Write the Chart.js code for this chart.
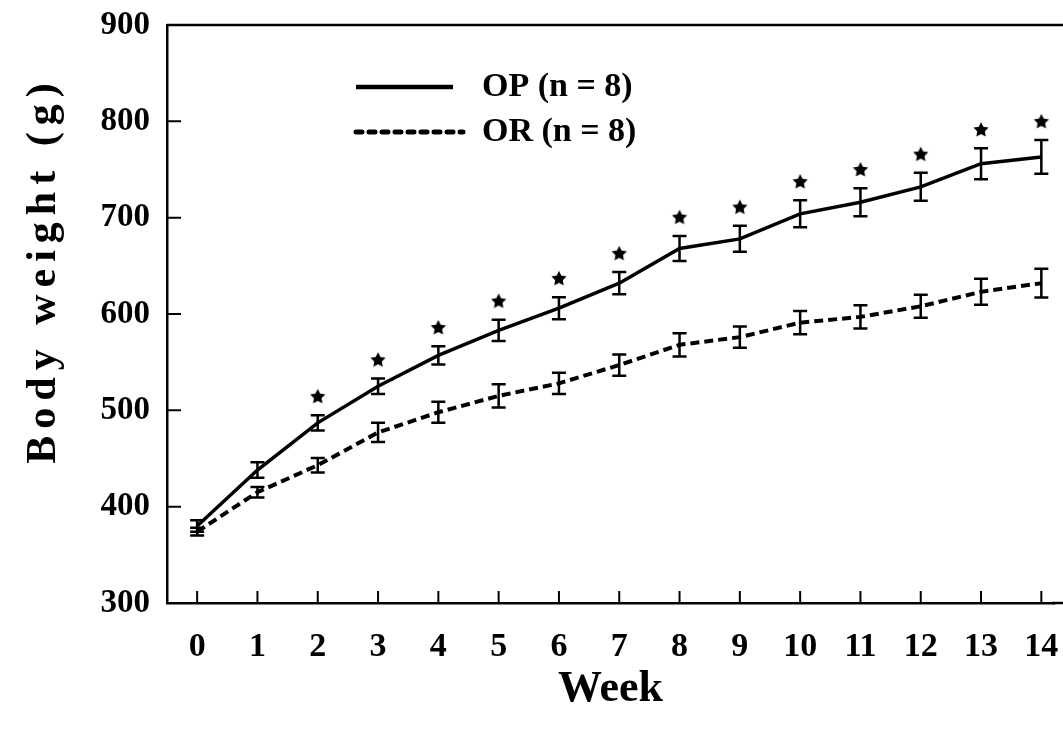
<!DOCTYPE html>
<html lang="en">
<head>
<meta charset="UTF-8">
<title>Body weight by week</title>
<script src="https://cdn.jsdelivr.net/npm/chart.js"></script>
<style>
  html, body { margin: 0; background: #fff; overflow: hidden; }
  #wrap { width: 1063px; height: 732px; }
  canvas { display: block; }
</style>
</head>
<body>
<div id="wrap"><canvas id="bw" width="1063" height="732"></canvas></div>
<script>
// weekly means and error (SE)
const weeks = [0, 1, 2, 3, 4, 5, 6, 7, 8, 9, 10, 11, 12, 13, 14];
const opMean = [380, 438, 487, 525, 557, 583, 606, 632, 668, 678, 704, 716, 732, 756, 763];
const opErr  = [6, 8, 8, 8, 9.5, 11, 11.5, 11.5, 13, 13.5, 14, 14.5, 14.5, 16, 17.5];
const orMean = [374, 415, 443, 477, 498, 515, 528, 547, 568, 576, 591, 597, 608, 623, 632];
const orErr  = [4, 5.5, 7.5, 10, 11, 12, 11, 11, 12, 11, 12, 12, 12, 13.5, 15];
const starWeeks = [2, 3, 4, 5, 6, 7, 8, 9, 10, 11, 12, 13, 14];
const yTicks = [300, 400, 500, 600, 700, 800, 900];

const serif = '"Liberation Serif", "Times New Roman", serif';

// filled five point star used for the significance marks
function makeStar(r) {
    let c = document.createElement('canvas');
    c.width = c.height = r * 2 + 2;
    let g = c.getContext('2d');
    g.beginPath();
    for (let i = 0; i < 10; i++) {
        let rad = i % 2 ? r * 0.5 : r;
        let a = -Math.PI / 2 + i * Math.PI / 5;
        g.lineTo(r + 1 + rad * Math.cos(a), r + 1 + rad * Math.sin(a));
    }
    g.closePath();
    g.fillStyle = '#000';
    g.fill();
    return c;
}

const starPts = starWeeks.map(w => {
    let i = weeks.indexOf(w);
    return { x: w, y: opMean[i] + opErr[i] + 19 };
});

const extras = {
    id: 'extras',
    afterDatasetsDraw(chart) {
        let ctx = chart.ctx, xs = chart.scales.x, ys = chart.scales.y;
        ctx.save();
        ctx.strokeStyle = '#000';
        ctx.lineWidth = 2.5;
        [[opMean, opErr], [orMean, orErr]].forEach(([m, e]) => {
            weeks.forEach((w, i) => {
                let px = xs.getPixelForValue(w);
                let top = ys.getPixelForValue(m[i] + e[i]);
                let bot = ys.getPixelForValue(m[i] - e[i]);
                ctx.beginPath();
                ctx.moveTo(px, top); ctx.lineTo(px, bot);
                ctx.moveTo(px - 7, top); ctx.lineTo(px + 7, top);
                ctx.moveTo(px - 7, bot); ctx.lineTo(px + 7, bot);
                ctx.stroke();
            });
        });
        ctx.restore();
    },
    afterDraw(chart) {
        let ctx = chart.ctx, xs = chart.scales.x, ys = chart.scales.y;
        let area = chart.chartArea;
        ctx.save();
        ctx.strokeStyle = '#000';
        ctx.lineWidth = 2.5;
        // frame: top line, bottom axis carried on to the page edge
        ctx.beginPath();
        ctx.moveTo(area.left, area.top);
        ctx.lineTo(chart.width, area.top);
        ctx.moveTo(area.right - 2, area.bottom);
        ctx.lineTo(chart.width, area.bottom);
        ctx.stroke();
        // inward tick marks
        ctx.lineWidth = 2;
        ctx.beginPath();
        yTicks.forEach(v => {
            let py = ys.getPixelForValue(v);
            ctx.moveTo(area.left, py); ctx.lineTo(area.left + 14, py);
        });
        weeks.forEach(w => {
            let px = xs.getPixelForValue(w);
            ctx.moveTo(px, area.bottom); ctx.lineTo(px, area.bottom - 12);
        });
        ctx.stroke();

        // legend
        let sets = chart.data.datasets;
        let rows = [[sets[0], 87, 453], [sets[1], 132, 463]];
        ctx.font = 'bold 34px ' + serif;
        ctx.fillStyle = '#000';
        ctx.textBaseline = 'middle';
        rows.forEach(([ds, y, end]) => {
            ctx.beginPath();
            ctx.lineWidth = ds.borderWidth + 1;
            ctx.lineCap = ds.borderDash ? 'round' : 'butt';
            ctx.setLineDash(ds.borderDash ? [6, 7] : []);
            ctx.moveTo(356, y); ctx.lineTo(end, y);
            ctx.stroke();
            ctx.fillText(ds.label, 482, y);
        });
        ctx.setLineDash([]);

        // y axis title, spaced like the original
        ctx.translate(44, 270);
        ctx.rotate(-Math.PI / 2);
        ctx.font = 'bold 42px ' + serif;
        ctx.letterSpacing = '7px';
        ctx.textAlign = 'center';
        ctx.fillText('Body weight (g)', 0, 0);
        ctx.restore();
    }
};

new Chart(document.getElementById('bw'), {
    type: 'line',
    data: {
        datasets: [
            {
                label: 'OP (n = 8)',
                data: weeks.map((w, i) => ({ x: w, y: opMean[i] })),
                borderColor: '#000',
                borderWidth: 3.5,
                pointRadius: 0,
                tension: 0
            },
            {
                label: 'OR (n = 8)',
                data: weeks.map((w, i) => ({ x: w, y: orMean[i] })),
                borderColor: '#000',
                borderWidth: 4,
                borderDash: [9, 5],
                pointRadius: 0,
                tension: 0
            },
            {
                label: 'p < 0.05',
                data: starPts,
                showLine: false,
                pointStyle: makeStar(8),
                pointRadius: 8
            }
        ]
    },
    options: {
        responsive: false,
        devicePixelRatio: 1,
        animation: false,
        layout: { padding: { top: 25, right: 0, bottom: 0, left: 0 } },
        plugins: { legend: { display: false }, tooltip: { enabled: false } },
        scales: {
            x: {
                type: 'linear',
                min: -0.5,
                max: 14.21,
                afterBuildTicks: s => { s.ticks = weeks.map(v => ({ value: v })); },
                afterFit: s => { s.height = 129; s.paddingLeft = 0; s.paddingRight = 0; },
                grid: { display: false, drawTicks: false },
                border: { display: true, color: '#000', width: 2.5 },
                ticks: {
                    color: '#000',
                    padding: 24,
                    maxRotation: 0,
                    font: { family: serif, size: 34, weight: 'bold' }
                },
                title: {
                    display: true,
                    text: 'Week',
                    color: '#000',
                    padding: { top: 0, bottom: 16 },
                    font: { family: serif, size: 44, weight: 'bold' }
                }
            },
            y: {
                min: 300,
                max: 900,
                afterBuildTicks: s => { s.ticks = yTicks.map(v => ({ value: v })); },
                afterFit: s => { s.width = 167; s.paddingTop = 0; s.paddingBottom = 0; },
                grid: { display: false, drawTicks: false },
                border: { display: true, color: '#000', width: 2.5 },
                ticks: {
                    color: '#000',
                    padding: 17,
                    font: { family: serif, size: 33, weight: 'bold' }
                }
            }
        }
    },
    plugins: [extras]
});
</script>
</body>
</html>
